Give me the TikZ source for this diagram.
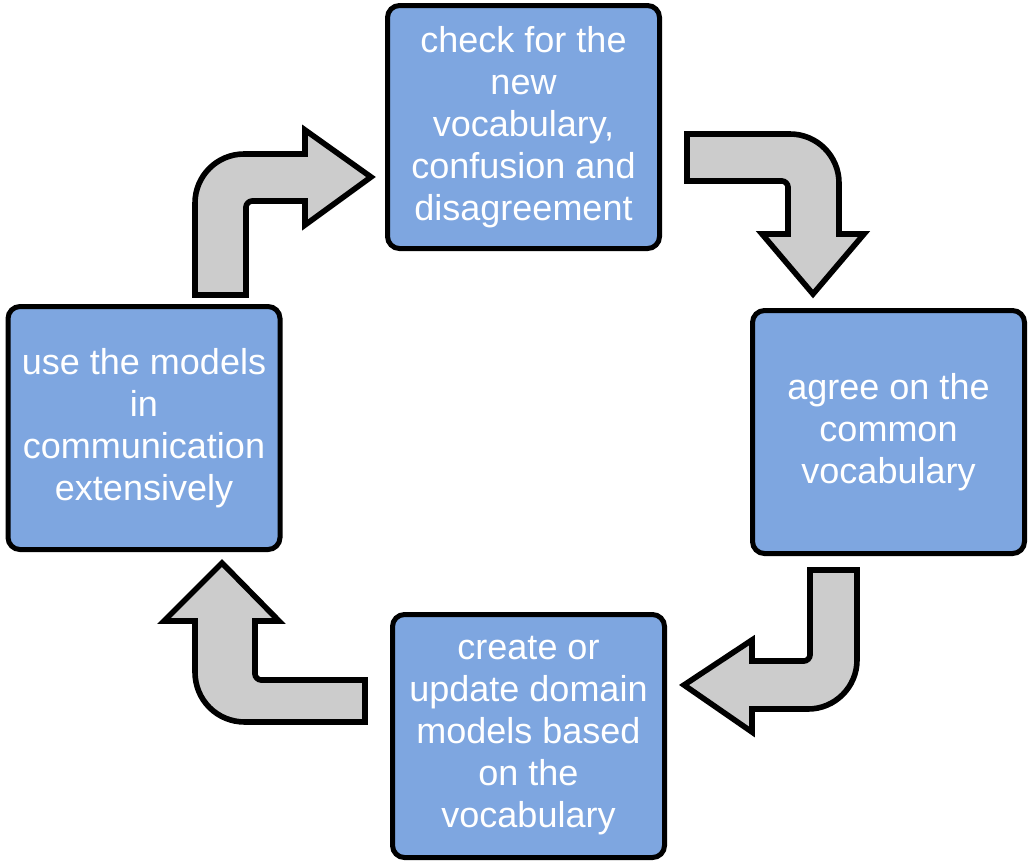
\documentclass[tikz,border=0pt]{standalone}
\usepackage{fontspec}
\setmainfont{Liberation Sans}
\definecolor{stepblue}{HTML}{7EA6E0}
\definecolor{arrowgray}{HTML}{CCCCCC}

\begin{document}
\begin{tikzpicture}[x=0.5pt, y=-0.5pt, stage/.style={rectangle, draw, line width=2.5pt, rounded corners=6pt, fill=stepblue, text=white, minimum width=136pt, minimum height=121.5pt, align=center, font=\fontsize{18pt}{21pt}\selectfont}, bentarrow/.style={draw, line width=2.8pt, fill=arrowgray, line join=miter}]

  \useasboundingbox (0,0) rectangle (1031,863);

  \node[stage] (checkvocab) at (523.5,127) {check for the\\new\\vocabulary,\\confusion and\\disagreement};
  \node[stage] (agree) at (888.5,432) {agree on the\\common\\vocabulary};
  \node[stage] (createmodel) at (528.5,736) {create or\\update domain\\models based\\on the\\vocabulary};
  \node[stage] (usemodel) at (144,428) {use the models\\in\\communication\\extensively};

  \draw[bentarrow] (195,295) -- (195,203) .. controls (195,176) and (217,154) .. (244,154) -- (305,154) -- (305,130) -- (371,177) -- (305,225) -- (305,201) -- (252,201) .. controls (249,201) and (246,204) .. (246,207) -- (246,295) -- cycle;
  \draw[bentarrow] (687,134) -- (790,134) .. controls (817,134) and (839,156) .. (839,183) -- (839,234) -- (864,234) -- (813,294) -- (762,234) -- (788,234) -- (788,187) .. controls (788,184) and (785,181) .. (782,181) -- (687,181) -- cycle;
  \draw[bentarrow] (810,570) -- (857,570) -- (857,660) .. controls (857,687) and (835,709) .. (808,709) -- (752,709) -- (752,732) -- (684,685) -- (752,640) -- (752,661) -- (804,661) .. controls (807,661) and (810,658) .. (810,655) -- cycle;
  \draw[bentarrow] (365,680) -- (365,722) -- (245,722) .. controls (217,722) and (195,700) .. (195,672) -- (195,621) -- (164,621) -- (222,563) -- (279,621) -- (255,621) -- (255,674) .. controls (255,677) and (258,680) .. (261,680) -- cycle;
\end{tikzpicture}
\end{document}
